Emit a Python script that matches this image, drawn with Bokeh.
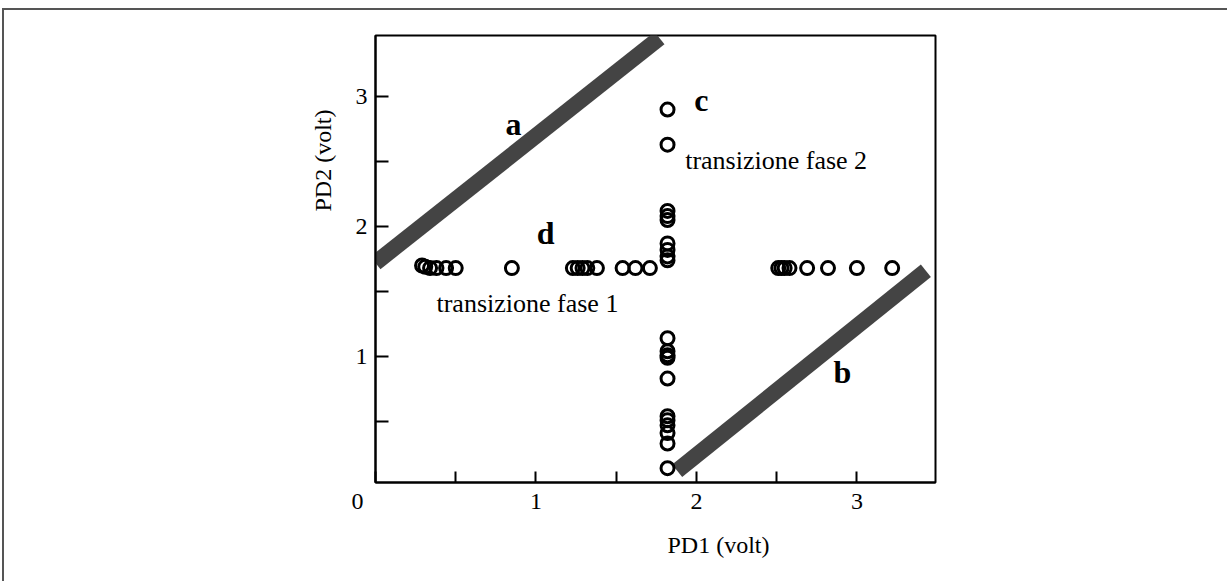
import math
from bokeh.plotting import figure
from bokeh.models import Range1d, FixedTicker, Label, Title
from bokeh.embed import file_html
from bokeh.resources import INLINE

# ---------------- data ----------------
# horizontal row of points ("d" / transizione fase 1)
row_x = [0.29, 0.31, 0.34, 0.38, 0.44, 0.50, 0.85,
         1.23, 1.26, 1.29, 1.32, 1.38, 1.54, 1.62, 1.71,
         2.51, 2.53, 2.55, 2.58, 2.69, 2.82, 3.00, 3.22]
row_y = [1.70, 1.69, 1.68, 1.68, 1.68, 1.68, 1.68,
         1.68, 1.68, 1.68, 1.68, 1.68, 1.68, 1.68, 1.68,
         1.68, 1.68, 1.68, 1.68, 1.68, 1.68, 1.68, 1.68]
# vertical column of points ("c" / transizione fase 2)
col_y = [2.90, 2.63, 2.12, 2.08, 2.05, 1.87, 1.82, 1.77, 1.74,
         1.14, 1.04, 1.01, 0.99, 0.83, 0.54, 0.51, 0.47, 0.41, 0.33, 0.14]
col_x = [1.82] * len(col_y)

# thick bands a and b
line_a_x = [0.0, 1.77]
line_a_y = [1.72, 3.45]
line_b_x = [1.88, 3.43]
line_b_y = [0.12, 1.66]

x_major_ticks = [0, 1, 2, 3]
y_major_ticks = [1, 2, 3]
minor_ticks = [0.5, 1.5, 2.5]

letters = ["a", "b", "c", "d"]
letter_x = [0.86, 2.91, 2.03, 1.06]
letter_y = [2.79, 0.88, 2.97, 1.95]

notes = ["transizione fase 2", "transizione fase 1"]
note_x = [1.93, 0.38]
note_y = [2.51, 1.41]

x_title = "PD1 (volt)"
y_title = "PD2 (volt)"

SERIF = "Liberation Serif"
NBSP = "\u00a0"

# ---------------- figure ----------------
p = figure(width=1225, height=573,
           x_range=Range1d(0, 3.49), y_range=Range1d(0.03, 3.47),
           output_backend="svg", toolbar_location=None,
           min_border_left=371, min_border_right=294,
           min_border_top=25, min_border_bottom=101)
p.styles = {"border-top": "2px solid #555", "border-left": "2px solid #555",
            "margin-left": "2px", "margin-top": "8px"}
p.xgrid.visible = False
p.ygrid.visible = False
p.outline_line_color = "black"
p.outline_line_width = 2
p.background_fill_color = "white"
p.border_fill_color = "white"

for ax, tin, ticks in ((p.xaxis[0], 11, x_major_ticks), (p.yaxis[0], 13, y_major_ticks)):
    ax.ticker = FixedTicker(ticks=ticks, minor_ticks=minor_ticks)
    ax.axis_line_color = "black"
    ax.axis_line_width = 2
    ax.major_tick_in = tin
    ax.major_tick_out = 0
    ax.minor_tick_in = tin
    ax.minor_tick_out = 0
    ax.major_tick_line_width = 2
    ax.minor_tick_line_width = 2
    ax.major_tick_line_color = "black"
    ax.minor_tick_line_color = "black"
    ax.major_label_text_font = SERIF
    ax.major_label_text_font_size = "24px"
    ax.major_label_text_color = "black"
p.xaxis.major_label_standoff = 5
p.yaxis.major_label_standoff = 8
# shared origin label "0" sits left of the corner
p.xaxis.major_label_overrides = {0: "0" + NBSP * 6}

# axis titles (offset along the axes as in the original)
p.add_layout(Title(text=x_title, align="left", offset=292, standoff=26,
                   text_font=SERIF, text_font_size="24px", text_font_style="normal",
                   text_color="black"), "below")
p.add_layout(Title(text=y_title, align="left", offset=271, standoff=34,
                   text_font=SERIF, text_font_size="24px", text_font_style="normal",
                   text_color="black"), "left")

# bands
p.line(line_a_x, line_a_y, line_width=16, line_color="#444444", line_cap="butt")
p.line(line_b_x, line_b_y, line_width=16, line_color="#444444", line_cap="butt")

# points
p.scatter(row_x, row_y, marker="circle", size=13, fill_color=None,
          line_color="black", line_width=3)
p.scatter(col_x, col_y, marker="circle", size=13, fill_color=None,
          line_color="black", line_width=3)

for t, x, y in zip(letters, letter_x, letter_y):
    p.add_layout(Label(x=x, y=y, text=t, text_font=SERIF, text_font_size="32px",
                       text_font_style="bold", text_align="center",
                       text_baseline="middle", text_color="black"))
for t, x, y in zip(notes, note_x, note_y):
    p.add_layout(Label(x=x, y=y, text=t, text_font=SERIF, text_font_size="26px",
                       text_align="left", text_baseline="middle", text_color="black"))

open("out.html", "w").write(file_html(p, INLINE))
